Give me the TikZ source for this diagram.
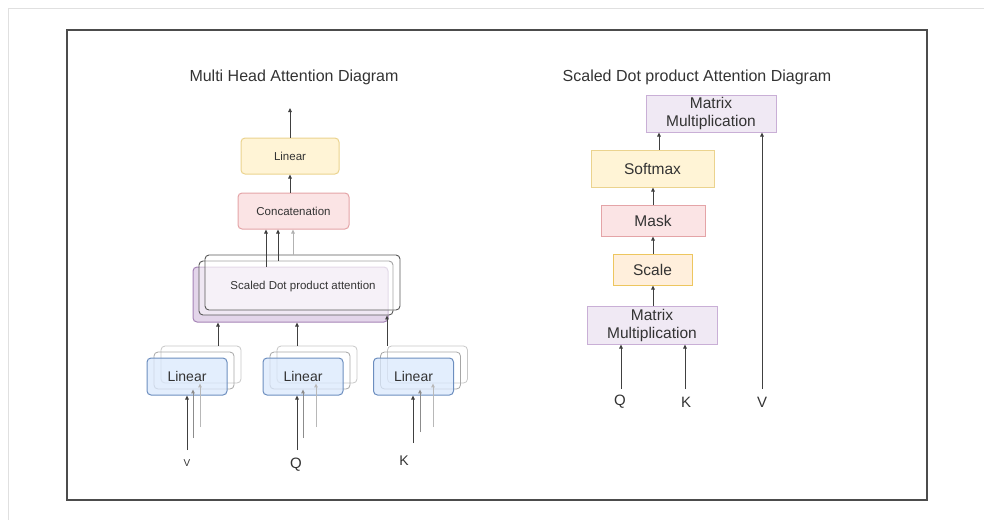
\documentclass[tikz,border=0pt]{standalone}
\usepackage{fontspec}
\setmainfont{Liberation Sans}
\usetikzlibrary{arrows.meta}

\definecolor{txt}{HTML}{333333}
\definecolor{yelF}{HTML}{FFF4D6}
\definecolor{yelD}{HTML}{EBD38E}
\definecolor{redF}{HTML}{FBE4E5}
\definecolor{redD}{HTML}{E4A4A7}
\definecolor{purF}{HTML}{E3D5EA}
\definecolor{purD}{HTML}{A583B6}
\definecolor{pur2F}{HTML}{F0E9F4}
\definecolor{pur2D}{HTML}{C9AFD6}
\definecolor{bluF}{HTML}{DAE8FC}
\definecolor{bluD}{HTML}{6C8EBF}
\definecolor{oraF}{HTML}{FFEFDC}
\definecolor{oraD}{HTML}{EDC65F}

\tikzset{
  lbox/.style={draw, rounded corners=4pt, line width=1pt, inner sep=0pt,
    text=txt, font=\fontsize{11.5}{13}\selectfont},
  rbox/.style={draw, line width=1pt, inner sep=0pt, align=center,
    text=txt, font=\fontsize{15.5}{18}\selectfont},
  ghost/.style={draw, rounded corners=4pt, line width=0.8pt, inner sep=0pt,
    minimum width=80pt, minimum height=37pt},
  linbox/.style={lbox, fill=bluF, fill opacity=0.75, text opacity=1, draw=bluD,
    minimum width=80pt, minimum height=37pt, font=\fontsize{14}{16}\selectfont},
  headbox/.style={lbox, fill=white, fill opacity=0.45, draw=black!65, line width=0.9pt},
  arr/.style={-{Triangle[length=4pt,width=3.5pt]}, line width=0.9pt, draw=#1},
  arr/.default={black!75},
  title/.style={text=txt, font=\fontsize{16}{18}\selectfont},
  inlabel/.style={text=txt, inner sep=0pt}
}

\begin{document}
\begin{tikzpicture}[x=1pt,y=-1pt]
\useasboundingbox (0,0) rectangle (984,520);

% page edge and outer frame
\draw[black!12, line width=1pt] (8,520) -- (8,8) -- (984,8);
\draw[black!70, line width=1.3pt] (67,30) rectangle (927,500);

% ---------------- Multi head attention ----------------
\node[title] (ttlL) at (294,77) {Multi Head Attention Diagram};

\node[lbox, fill=yelF, draw=yelD, minimum width=98pt, minimum height=36pt]
  (linT) at (290,156) {Linear};
\node[lbox, fill=redF, draw=redD, minimum width=111pt, minimum height=36pt]
  (concat) at (293.5,211) {Concatenation};
\coordinate (outT) at (290,108);
\draw[arr] (linT.north) -- (outT);
\draw[arr] (concat.north -| linT) -- (linT.south);

% stacked scaled dot product attention heads
\node[lbox, fill=purF, draw=purD, minimum width=195pt, minimum height=55pt]
  (sdpaA) at (290.5,294.5) {};
\node[headbox, minimum width=194pt, minimum height=54pt]
  (sdpaB) at (296,288) {};
\node[headbox, minimum width=195pt, minimum height=55pt]
  (sdpaC) at (302.5,282.5) {};
\node[text=txt, font=\fontsize{11.5}{13}\selectfont] (sdpaT) at (303,287)
  {Scaled Dot product attention};

\coordinate (h1) at (266,0);
\coordinate (h2) at (278,0);
\coordinate (h3) at (293,0);
\draw[arr] (h1 |- sdpaA.north) -- (h1 |- concat.south);
\draw[arr] (h2 |- sdpaB.north) -- (h2 |- concat.south);
\draw[arr=black!30] (h3 |- sdpaC.north) -- (h3 |- concat.south);

% linear projection stacks
\foreach \n/\cx in {1/187, 2/303, 3/413.5}{
  \node[ghost, draw=black!22] (g\n b) at (\cx+14,364.5) {};
  \node[ghost, draw=black!35] (g\n a) at (\cx+7,370.5) {};
  \node[linbox] (lin\n) at (\cx,376.5) {Linear};
}

\coordinate (u1) at (218,0);
\coordinate (u2) at (297,0);
\coordinate (u3) at (387,0);
\draw[arr] (u1 |- g1b.north) -- (u1 |- sdpaA.south);
\draw[arr] (u2 |- g2b.north) -- (u2 |- sdpaA.south);
\draw[arr] (u3 |- g3b.north) -- (u3 |- sdpaB.south);

% inputs
\coordinate (v1) at (187,450);  \coordinate (v2) at (193,438);  \coordinate (v3) at (200,427);
\coordinate (q1) at (297,450);  \coordinate (q2) at (303,438);  \coordinate (q3) at (316,427);
\coordinate (k1) at (413,443);  \coordinate (k2) at (420,432);  \coordinate (k3) at (433,427);
\foreach \s/\n in {v/1, q/2, k/3}{
  \draw[arr] (\s1) -- (\s1 |- lin\n.south);
  \draw[arr=black!45] (\s2) -- (\s2 |- g\n a.south);
  \draw[arr=black!28] (\s3) -- (\s3 |- g\n b.south);
}
\node[inlabel, font=\fontsize{10}{12}\selectfont] (labV) at (187,463) {V};
\node[inlabel, font=\fontsize{15}{17}\selectfont] (labQ) at (296,465) {Q};
\node[inlabel, font=\fontsize{14}{16}\selectfont] (labK) at (404,461) {K};

% ---------------- Scaled dot product attention ----------------
\node[title] (ttlR) at (697,77) {Scaled Dot product Attention Diagram};

\node[rbox, fill=pur2F, draw=pur2D, minimum width=130pt, minimum height=37pt]
  (mmT) at (711,113.5) {Matrix\\Multiplication};
\node[rbox, fill=yelF, draw=yelD, minimum width=123pt, minimum height=37pt]
  (soft) at (652.5,168.5) {Softmax};
\node[rbox, fill=redF, draw=redD, minimum width=104pt, minimum height=31pt]
  (mask) at (653,220.5) {Mask};
\node[rbox, fill=oraF, draw=oraD, minimum width=79pt, minimum height=31pt]
  (scale) at (652.5,269.5) {Scale};
\node[rbox, fill=pur2F, draw=pur2D, minimum width=130pt, minimum height=38pt]
  (mmB) at (652,325) {Matrix\\Multiplication};

\coordinate (sx) at (653,0);
\coordinate (tx) at (659,0);
\draw[arr] (sx |- mmB.north) -- (sx |- scale.south);
\draw[arr] (sx |- scale.north) -- (sx |- mask.south);
\draw[arr] (sx |- mask.north) -- (sx |- soft.south);
\draw[arr] (tx |- soft.north) -- (tx |- mmT.south);

\coordinate (rq) at (621,389);
\coordinate (rk) at (685,389);
\coordinate (rv) at (762,389);
\draw[arr] (rq) -- (rq |- mmB.south);
\draw[arr] (rk) -- (rk |- mmB.south);
\draw[arr] (rv) -- (rv |- mmT.south);
\node[inlabel, font=\fontsize{15}{17}\selectfont] (rlQ) at (620,402) {Q};
\node[inlabel, font=\fontsize{15}{17}\selectfont] (rlK) at (686,402) {K};
\node[inlabel, font=\fontsize{15}{17}\selectfont] (rlV) at (762,402) {V};
\end{tikzpicture}
\end{document}
